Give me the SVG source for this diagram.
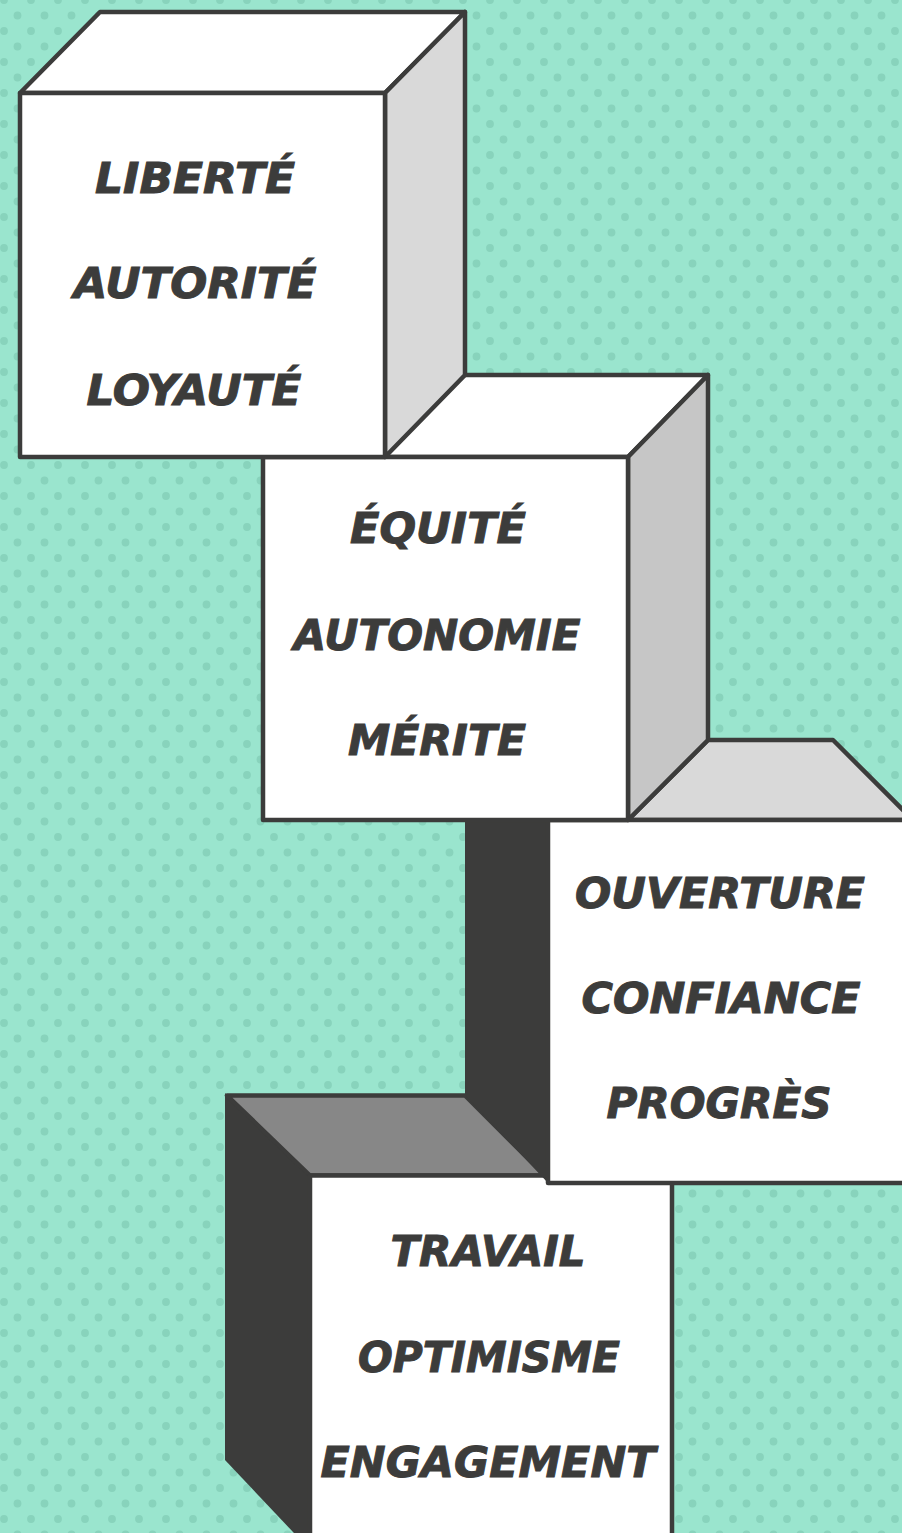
<svg xmlns="http://www.w3.org/2000/svg" width="902" height="1533" viewBox="0 0 902 1533">
<defs>
<pattern id="dots" x="0" y="0" width="27" height="31" patternUnits="userSpaceOnUse">
<rect width="27" height="31" fill="#9AE5CE"/>
<circle cx="4" cy="0" r="3.9" fill="#88D3BC"/>
<circle cx="4" cy="31" r="3.9" fill="#88D3BC"/>
<circle cx="17.5" cy="15.5" r="3.9" fill="#88D3BC"/>
</pattern>
<style>
.e{stroke:#3C3C3B;stroke-width:4.5;stroke-linejoin:round}
.w{fill:#FFFFFF}
.g1{fill:#D9D9D9}
.g2{fill:#C6C6C6}
.g3{fill:#878787}
.dk{fill:#3C3C3B}
.t{font-family:"DejaVu Sans","Liberation Sans",sans-serif;font-weight:bold;font-style:italic;font-size:42px;fill:#3C3C3B;stroke:#3C3C3B;stroke-width:1;text-anchor:middle}
</style>
</defs>
<rect id="background" width="902" height="1533" fill="url(#dots)"/>

<g id="cube4">
<polygon class="dk" points="225,1093 310,1175 310,1550 225,1460"/>
<polygon class="e g3" points="227,1095.5 465,1095.5 545,1175.5 310,1175.5"/>
<rect class="e w" x="310" y="1175.5" width="362" height="380"/>
<text class="t" x="488" y="1266" textLength="195" lengthAdjust="spacingAndGlyphs">TRAVAIL</text>
<text class="t" x="489" y="1372" textLength="262" lengthAdjust="spacingAndGlyphs">OPTIMISME</text>
<text class="t" x="488" y="1477" textLength="335" lengthAdjust="spacingAndGlyphs">ENGAGEMENT</text>
</g>

<g id="cube3">
<polygon class="dk" points="465,820 548,820 548,1183 465,1095"/>
<polygon class="e g1" points="628,820 708,740 833,740 913,820"/>
<rect class="e w" x="548" y="820" width="370" height="363"/>
<text class="t" x="720" y="908" textLength="290" lengthAdjust="spacingAndGlyphs">OUVERTURE</text>
<text class="t" x="721" y="1013" textLength="279" lengthAdjust="spacingAndGlyphs">CONFIANCE</text>
<text class="t" x="719" y="1118" textLength="225" lengthAdjust="spacingAndGlyphs">PROGRÈS</text>
</g>

<g id="cube2">
<polygon class="e w" points="263,457 343,375 708,375 628,457"/>
<polygon class="e g2" points="628,457 708,375 708,740 628,820"/>
<rect class="e w" x="263" y="457" width="365" height="363"/>
<text class="t" x="438" y="543" textLength="176" lengthAdjust="spacingAndGlyphs">ÉQUITÉ</text>
<text class="t" x="437" y="650" textLength="287" lengthAdjust="spacingAndGlyphs">AUTONOMIE</text>
<text class="t" x="437" y="755" textLength="178" lengthAdjust="spacingAndGlyphs">MÉRITE</text>
</g>

<g id="cube1">
<polygon class="e w" points="20,93 100,12 465,12 385,93"/>
<polygon class="e g1" points="385,93 465,12 465,375 385,457"/>
<rect class="e w" x="20" y="93" width="365" height="364"/>
<text class="t" x="195" y="193" textLength="200" lengthAdjust="spacingAndGlyphs">LIBERTÉ</text>
<text class="t" x="195" y="298" textLength="243" lengthAdjust="spacingAndGlyphs">AUTORITÉ</text>
<text class="t" x="194" y="405" textLength="215" lengthAdjust="spacingAndGlyphs">LOYAUTÉ</text>
</g>

<g id="connectors"/>
</svg>
